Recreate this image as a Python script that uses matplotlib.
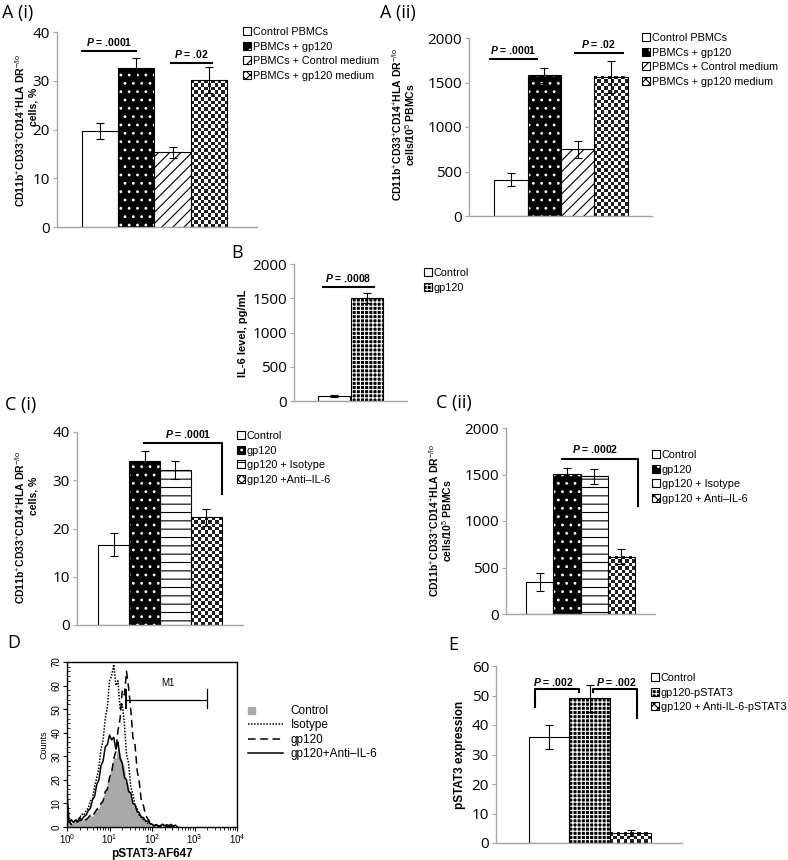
import numpy as np
import matplotlib
matplotlib.use('Agg')
import matplotlib.pyplot as plt
import matplotlib.patches as mpatches
from matplotlib.lines import Line2D
from matplotlib.legend_handler import HandlerPatch
from matplotlib.ticker import MultipleLocator, LogLocator, NullFormatter

plt.rcParams['font.family'] = ['Liberation Sans', 'DejaVu Sans']
plt.rcParams['mathtext.fontset'] = 'custom'
plt.rcParams['mathtext.rm'] = 'Liberation Sans'
plt.rcParams['mathtext.it'] = 'Liberation Sans:italic'
plt.rcParams['mathtext.bf'] = 'Liberation Sans:bold'
plt.rcParams['mathtext.bfit'] = 'Liberation Sans:italic:bold'
plt.rcParams['hatch.linewidth'] = 0.8

# ---- data ----
a1_labels = ['Control PBMCs', 'PBMCs + gp120', 'PBMCs + Control medium', 'PBMCs + gp120 medium']
a1_vals = [19.7, 32.6, 15.3, 30.1]
a1_errs = [1.7, 2.1, 1.1, 2.7]

a2_vals = [408, 1580, 749, 1562]
a2_errs = [75, 83, 97, 180]

b_labels = ['Control', 'gp120']
b_vals = [75, 1500]
b_errs = [15, 70]

c1_labels = ['Control', 'gp120', 'gp120 + Isotype', 'gp120 +Anti\u2013IL-6']
c1_vals = [16.6, 34.0, 32.1, 22.3]
c1_errs = [2.4, 2.1, 1.9, 1.8]

c2_labels = ['Control', 'gp120', 'gp120 + Isotype', 'gp120 + Anti\u2013IL-6']
c2_vals = [347, 1503, 1481, 615]
c2_errs = [97, 72, 80, 80]

e_labels = ['Control', 'gp120-pSTAT3', 'gp120 + Anti-IL-6-pSTAT3']
e_vals = [36.0, 49.0, 3.4]
e_errs = [4.0, 4.5, 1.1]

# flow histogram (log10 fluorescence vs counts)
d_logx = [0.00, 0.05, 0.10, 0.15, 0.20, 0.25, 0.30, 0.35, 0.40, 0.45,
          0.50, 0.55, 0.60, 0.65, 0.70, 0.75, 0.80, 0.85, 0.90, 0.95,
          1.00, 1.05, 1.10, 1.15, 1.20, 1.25, 1.30, 1.35, 1.40, 1.45,
          1.50, 1.55, 1.60, 1.65, 1.70, 1.75, 1.80, 1.85, 1.90, 1.95,
          2.00, 2.05, 2.10, 2.15, 2.20, 2.25, 2.30, 2.35, 2.40, 2.45,
          2.50, 2.55, 2.60]
d_control = [2, 2.5, 1.5, 2, 2.5, 2, 3, 2.5, 3.5, 3,
             4, 5, 4.5, 6, 7.5, 8, 10, 13, 15, 19,
             22, 26, 30, 29, 34, 31, 28, 25, 19, 17,
             12, 10, 8.5, 6, 5.5, 4, 3, 2.5, 1.5, 1,
             0.5, 0.3, 0.2, 0, 0, 0, 0, 0, 0, 0,
             0, 0, 0]
d_isotype = [3, 2, 3, 2, 2.5, 3, 4, 5.5, 5, 7,
             8, 11, 12, 17, 21, 25, 33, 37, 46, 51,
             62, 64, 69, 60, 62, 50, 52, 44, 31, 27,
             17, 14, 9, 8, 5, 4.5, 3, 2.5, 1.5, 1.2,
             1, 0.5, 1, 0.3, 0.8, 0.3, 1, 0.3, 0.8, 0.2,
             0.6, 0.2, 0]
d_gp120 = [2, 2.5, 1, 2, 2.5, 2, 3, 2.5, 3.5, 3,
           4, 5, 4.5, 6, 7.5, 8, 10, 11, 15, 16,
           21, 23, 29, 32, 41, 46, 58, 56, 66, 59,
           50, 38, 35, 24, 19, 11, 9, 5, 3.5, 2,
           1.2, 0.5, 0.8, 0.3, 0.5, 0.2, 0.6, 0.2, 0.4, 0.2,
           0.3, 0.1, 0]
d_anti = [15, 2, 3, 2, 3, 2.5, 4, 3, 4.5, 5,
          7, 8, 11.5, 13, 18, 20, 26, 28, 34, 35,
          39, 37, 38, 33, 36, 29, 27, 21, 20, 15,
          14.5, 10, 9.5, 6.5, 6, 4, 4, 2.5, 2.5, 1.5,
          1.2, 0.5, 1, 0.5, 0.3, 1.2, 0.5, 1, 0.4, 1.1,
          0.3, 0.8, 0]
d_labels = ['Control', 'Isotype', 'gp120', 'gp120+Anti\u2013IL-6']

W, H = 788, 860
fig = plt.figure(figsize=(W / 100, H / 100), dpi=100)


def box(x0, y0, x1, y1):
    return fig.add_axes([x0 / W, 1 - y1 / H, (x1 - x0) / W, (y1 - y0) / H])


STYLES = {
    'open': ('white', None, 'black'),
    'dots': ('black', '..', 'white'),
    'diag': ('white', '///', 'black'),
    'check': ('white', None, 'black'),
    'hline': ('white', '--', 'black'),
    'grid': ('black', '++++', 'white'),
}


def checker(ax, x, v, cell=3.4):
    # black/white checkerboard texture inside one bar
    p0 = ax.transData.transform((x - 0.5, 0))
    p1 = ax.transData.transform((x + 0.5, v))
    ncol = max(1, int(round((p1[0] - p0[0]) / cell)))
    nrow = max(1, int(round((p1[1] - p0[1]) / cell)))
    img = np.indices((nrow, ncol)).sum(axis=0) % 2
    ax.imshow(img, cmap='gray', vmin=-0.15, vmax=1, extent=(x - 0.5, x + 0.5, 0, v),
              aspect='auto', interpolation='nearest', zorder=1.2)


def bars(ax, vals, errs, styles):
    x = np.arange(len(vals))
    handles = []
    for i in range(len(vals)):
        fc, hatch, hc = STYLES[styles[i]]
        f = ax.bar(x[i], vals[i], width=1, color=fc, edgecolor=hc, hatch=hatch, linewidth=0)
        if styles[i] == 'check':
            checker(ax, x[i], vals[i])
            f = [mpatches.Patch(facecolor='white', edgecolor='black', hatch='xxxx', lw=0)]
        e = ax.bar(x[i], vals[i], width=1, fill=False, edgecolor='black', linewidth=0.8,
                   zorder=1.5)
        handles.append((f[0], e[0]))
    ax.errorbar(x, vals, yerr=errs, fmt='none', ecolor='black', elinewidth=0.8,
                capsize=3, capthick=0.8, zorder=2)
    return handles


def excel_axes(ax, ymax, step, xlim):
    ax.set_xlim(*xlim)
    ax.set_ylim(0, ymax)
    ax.set_yticks(np.arange(0, ymax + 1, step))
    ax.set_xticks([])
    for s in ['top', 'right']:
        ax.spines[s].set_visible(False)
    for s in ['left', 'bottom']:
        ax.spines[s].set_color('#a6a6a6')
        ax.spines[s].set_linewidth(1)
    ax.tick_params(axis='y', length=3, color='#a6a6a6', labelsize=11, pad=2)
    for lab in ax.get_yticklabels():
        lab.set_family('Open Sans')


def legend_at(ax, handles, labels, x, y):
    ax.legend(handles, labels, loc='upper left', bbox_to_anchor=(x / W, 1 - y / H),
              bbox_transform=fig.transFigure, frameon=False, fontsize=7.8,
              handlelength=0.75, handleheight=0.75, handletextpad=0.15,
              labelspacing=0.42, borderpad=0, borderaxespad=0)


def ptext(ax, x, y, s):
    ax.text(x, y, r'$\mathbfit{P}$ = ' + s, ha='center', va='bottom',
            fontsize=7.5, fontweight='bold')


def ylab(x, y, s, size=7.5, weight='bold'):
    fig.text(x / W, 1 - y / H, s, rotation=90, ha='center', va='center',
             fontsize=size, fontweight=weight)


def title(x, y, s):
    fig.text(x / W, 1 - y / H, s, fontsize=13, family='Open Sans', va='center')


marker_txt = r'CD11b$^{+}$CD33$^{+}$CD14$^{+}$HLA DR$^{-/\mathrm{lo}}$'
bk = dict(color='black', lw=1.5)

# ---- A (i) ----
ax = box(57, 32, 257, 227)
excel_axes(ax, 40, 10, (-1.19, 4.33))
h = bars(ax, a1_vals, a1_errs, ['open', 'dots', 'diag', 'check'])
ax.plot([-0.5, 1.0], [36.2, 36.2], **bk)
ptext(ax, 0.25, 36.8, '.0001')
ax.plot([1.95, 3.1], [33.6, 33.6], **bk)
ptext(ax, 2.52, 34.2, '.02')
legend_at(ax, h, a1_labels, 243, 27)
ylab(20, 131, marker_txt)
ylab(34, 107, 'cells, %')
title(2, 13, 'A (i)')

# ---- A (ii) ----
ax = box(469, 38, 652, 216)
excel_axes(ax, 2000, 500, (-1.25, 4.22))
h = bars(ax, a2_vals, a2_errs, ['open', 'dots', 'diag', 'check'])
ax.plot([-0.62, 0.78], [1768, 1768], **bk)
ptext(ax, 0.08, 1800, '.0001')
ax.plot([1.92, 3.35], [1831, 1831], **bk)
ptext(ax, 2.63, 1863, '.02')
legend_at(ax, h, a1_labels, 642, 33)
ylab(397, 125, marker_txt)
ylab(410, 125, 'cells/10$^{5}$ PBMCs')
title(380, 13, 'A (ii)')

# ---- B ----
ax = box(294, 264, 407, 401)
excel_axes(ax, 2000, 500, (-1.25, 2.25))
h = bars(ax, b_vals, b_errs, ['open', 'grid'])
ax.plot([-0.34, 1.22], [1670, 1670], **bk)
ptext(ax, 0.44, 1710, '.0008')
legend_at(ax, h, b_labels, 424, 268)
ylab(243, 333, 'IL-6 level, pg/mL', size=8)
title(231, 253, 'B')

# ---- C (i) ----
ax = box(77, 432, 243, 625)
excel_axes(ax, 40, 10, (-1.18, 4.18))
h = bars(ax, c1_vals, c1_errs, ['open', 'dots', 'hline', 'check'])
ax.plot([0.98, 3.5, 3.5], [37.7, 37.7, 27.1], **bk)
ptext(ax, 2.4, 38.3, '.0001')
legend_at(ax, h, c1_labels, 237, 431)
ylab(20, 528, marker_txt)
ylab(34, 496, 'cells, %')
title(5, 405, 'C (i)')

# ---- C (ii) ----
ax = box(506, 428, 655, 614)
excel_axes(ax, 2000, 500, (-1.24, 4.24))
h = bars(ax, c2_vals, c2_errs, ['open', 'dots', 'hline', 'check'])
ax.plot([0.82, 3.62, 3.62], [1671, 1671, 1163], **bk)
ptext(ax, 2.04, 1705, '.0002')
legend_at(ax, h, c2_labels, 652, 450)
ylab(434, 521, marker_txt)
ylab(447, 521, 'cells/10$^{5}$ PBMCs')
title(436, 403, 'C (ii)')

# ---- D ----
ax = box(67, 662, 237, 827)
fx = 10 ** np.array(d_logx)
ax.fill_between(fx, d_control, color='#a9a9a9', lw=0)
ax.plot(fx, d_isotype, color='black', lw=1.1, ls=(0, (1, 1)))
ax.plot(fx, d_gp120, color='black', lw=1.1, ls=(0, (5, 3)))
ax.plot(fx, d_anti, color='black', lw=1.1)
ax.set_xscale('log')
ax.set_xlim(1, 1e4)
ax.set_ylim(0, 70)
ax.set_yticks(np.arange(0, 71, 10))
ax.yaxis.set_minor_locator(MultipleLocator(2))
ax.xaxis.set_minor_locator(LogLocator(base=10, subs=np.arange(2, 10)))
ax.xaxis.set_minor_formatter(NullFormatter())
ax.tick_params(axis='both', which='major', labelsize=7, length=3, width=0.8, pad=1)
ax.tick_params(axis='y', which='minor', direction='in', length=2, width=0.6)
ax.tick_params(axis='x', which='minor', length=2, width=0.6)
ax.tick_params(axis='y', labelrotation=90)
for lab in ax.get_yticklabels():
    lab.set_va('center')
for s in ax.spines.values():
    s.set_linewidth(1)
# M1 gate
ax.plot([25, 1950], [54, 54], color='black', lw=0.9)
ax.plot([25, 25], [50.5, 58], color='black', lw=1.4)
ax.plot([1950, 1950], [50.5, 58.5], color='black', lw=0.9)
ax.text(236, 59, 'M1', fontsize=7, ha='center', va='bottom')
ax.set_xlabel('pSTAT3-AF647', fontsize=8.5, fontweight='bold', labelpad=1)
ax.set_ylabel('Counts', fontsize=6.5, labelpad=2)


def left_square(legend, orig_handle, xdescent, ydescent, width, height, fontsize):
    return mpatches.Rectangle((-xdescent, -ydescent), height * 0.9, height * 0.9)


d_handles = [mpatches.Patch(color='#a9a9a9'),
             Line2D([], [], color='black', lw=1.1, ls=(0, (1, 1))),
             Line2D([], [], color='black', lw=1.1, ls=(0, (5, 3))),
             Line2D([], [], color='black', lw=1.1)]
ax.legend(d_handles, d_labels, loc='upper left', bbox_to_anchor=(248 / W, 1 - 705 / H),
          bbox_transform=fig.transFigure, frameon=False, fontsize=8.5,
          handlelength=3.0, handletextpad=0.6, labelspacing=0.2, borderpad=0,
          borderaxespad=0, handler_map={mpatches.Patch: HandlerPatch(patch_func=left_square)})
title(7, 643, 'D')

# ---- E ----
ax = box(496, 666, 682, 843)
excel_axes(ax, 60, 10, (-1.3, 3.26))
h = bars(ax, e_vals, e_errs, ['open', 'grid', 'check'])
ax.plot([-0.35, -0.35, 0.74, 0.74], [46.0, 52.1, 52.1, 51.2], **bk)
ptext(ax, 0.11, 52.7, '.002')
ax.plot([1.09, 1.09, 2.16, 2.16], [51.2, 52.1, 52.1, 42.5], **bk)
ptext(ax, 1.65, 52.7, '.002')
legend_at(ax, h, e_labels, 651, 673)
ylab(460, 755, 'pSTAT3 expression', size=8.5)
title(448, 645, 'E')

fig.savefig('out.png', dpi=100)
